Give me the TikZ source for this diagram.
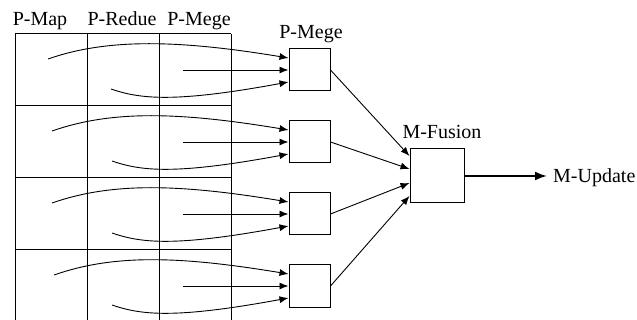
\documentclass[tikz,border=0pt]{standalone}
\usepackage{fontspec}
\setmainfont{Liberation Serif}
\usetikzlibrary{arrows.meta}

\tikzset{
  blk/.style={draw=black, line width=1pt, minimum width=41pt, minimum height=42pt, inner sep=0pt},
  fuse/.style={draw=black, line width=1pt, minimum size=54pt, inner sep=0pt},
  lbl/.style={anchor=base, inner sep=0pt},
  feed/.style={line width=0.9pt, -{Latex[length=9pt,width=7pt]}},
}

\begin{document}
\begin{tikzpicture}[x=1pt,y=-1pt,font=\fontsize{20}{24}\selectfont]
  \useasboundingbox (0,0) rectangle (637,320);
  % stage table
  \draw[line width=1pt] (15,34) -- (231,34);
  \draw[line width=1pt] (15,106) -- (231,106);
  \draw[line width=1pt] (15,178) -- (231,178);
  \draw[line width=1pt] (15,250) -- (231,250);
  \draw[line width=1pt] (15,34) -- (15,320);
  \draw[line width=1pt] (87,34) -- (87,320);
  \draw[line width=1pt] (159,34) -- (159,320);
  \draw[line width=1pt] (231,34) -- (231,320);
  \node[lbl] (hmap) at (40,26) {P-Map};
  \node[lbl] (hred) at (122,26) {P-Redue};
  \node[lbl] (hmrg) at (199,26) {P-Mege};
  % merge boxes
  \node[blk] (m1) at (309.5,70) {};
  \node[blk] (m2) at (309.5,142) {};
  \node[blk] (m3) at (309.5,214) {};
  \node[blk] (m4) at (309.5,286) {};
  \node[lbl] (mrg) at (311,39) {P-Mege};
  % start points in each row
  \coordinate (u1) at (48,59);
  \coordinate (s1) at (183,70);
  \coordinate (l1) at (111,89);
  \coordinate (u2) at (52,131);
  \coordinate (s2) at (183,142);
  \coordinate (l2) at (112,161);
  \coordinate (u3) at (52,203);
  \coordinate (s3) at (183,214);
  \coordinate (l3) at (112,233);
  \coordinate (u4) at (54,275);
  \coordinate (s4) at (183,286);
  \coordinate (l4) at (112,305);
  \draw[feed] (u1) .. controls +(60,-21) and +(-109,-18) .. ([yshift=12pt]m1.west);
  \draw[feed] (s1) -- (m1.west);
  \draw[feed] (l1) .. controls +(29,10) and +(-114,21) .. ([yshift=-12pt]m1.west);
  \draw[feed] (u2) .. controls +(60,-21) and +(-109,-18) .. ([yshift=12pt]m2.west);
  \draw[feed] (s2) -- (m2.west);
  \draw[feed] (l2) .. controls +(29,10) and +(-114,21) .. ([yshift=-12pt]m2.west);
  \draw[feed] (u3) .. controls +(60,-21) and +(-109,-18) .. ([yshift=12pt]m3.west);
  \draw[feed] (s3) -- (m3.west);
  \draw[feed] (l3) .. controls +(29,10) and +(-114,21) .. ([yshift=-12pt]m3.west);
  \draw[feed] (u4) .. controls +(60,-21) and +(-109,-18) .. ([yshift=12pt]m4.west);
  \draw[feed] (s4) -- (m4.west);
  \draw[feed] (l4) .. controls +(29,10) and +(-114,21) .. ([yshift=-12pt]m4.west);
  % fusion
  \node[fuse] (fu) at (437,176) {};
  \node[lbl] (fulbl) at (442,139) {M-Fusion};
  \draw[feed] (m1.east) -- ([yshift=20pt]fu.west);
  \draw[feed] (m2.east) -- ([yshift=7pt]fu.west);
  \draw[feed] (m3.east) -- ([yshift=-7pt]fu.west);
  \draw[feed] (m4.east) -- ([yshift=-20pt]fu.west);
  \node[anchor=base west, inner xsep=6pt, inner ysep=0pt] (upd) at (547,183) {M-Update};
  \draw[line width=2pt, -{Latex[length=12pt,width=9pt]}] (fu.east) -- (fu.east -| upd.west);
\end{tikzpicture}
\end{document}
